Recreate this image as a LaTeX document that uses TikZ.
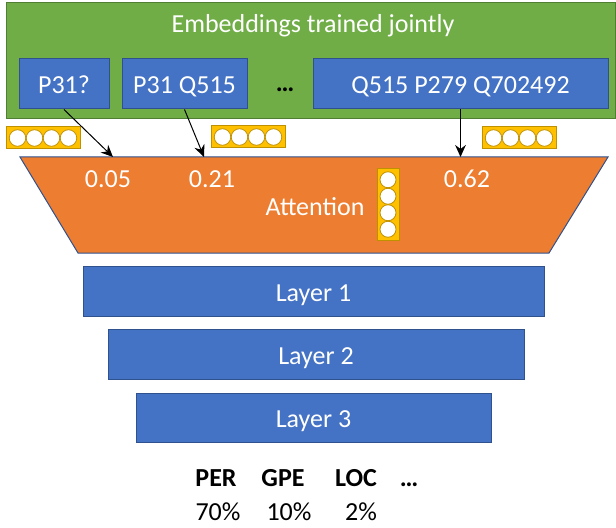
\documentclass[tikz,border=0pt]{standalone}
\usepackage{fontspec}
\setmainfont{Carlito}
\usetikzlibrary{arrows.meta}
\definecolor{cgreen}{HTML}{70AD47}
\definecolor{cgreenB}{HTML}{507E32}
\definecolor{cblue}{HTML}{4472C4}
\definecolor{cblueB}{HTML}{2F528F}
\definecolor{corange}{HTML}{ED7D31}
\definecolor{cgold}{HTML}{FFC000}
\definecolor{cgoldB}{HTML}{BF9000}
\tikzset{
  txt/.style={font=\fontsize{19.5}{23}\selectfont, inner sep=0pt},
  wtxt/.style={txt, text=white},
  bluebox/.style={draw=cblueB, fill=cblue, line width=0.75pt, inner sep=0pt,
    text=white, font=\fontsize{19.5}{23}\selectfont, text height=15pt, text depth=0pt},
  arr/.style={draw=black, line width=0.75pt, -{Stealth[length=9pt,width=8pt,inset=3pt]}},
  chipbox/.style={draw=cgoldB, fill=cgold, line width=0.75pt},
  chipdot/.style={draw=cgoldB, fill=white, line width=0.6pt},
  hchip/.pic={
    \path[chipbox] (0,0) rectangle (74,22);
    \foreach \i in {11.5,28.5,45.5,62.5}{\path[chipdot] (\i,11) circle[radius=6.2pt];}
  },
  vchip/.pic={
    \path[chipbox] (0,0) rectangle (22,71);
    \foreach \i in {10.75,27.25,43.75,60.25}{\path[chipdot] (11,\i) circle[radius=6pt];}
  }
}
\begin{document}
\begin{tikzpicture}[x=0.75pt,y=-0.75pt]
\useasboundingbox (0,0) rectangle (616,527);
% green container
\node[draw=cgreenB, fill=cgreen, line width=0.75pt, minimum width=456.75pt, minimum height=87pt, inner sep=0pt] (green) at (310.5,61) {};
\node[wtxt, anchor=base] (title) at (313,33) {Embeddings trained jointly};
% embedding boxes
\node[bluebox, minimum width=67.5pt, minimum height=37.5pt] (b1) at (64,84) {P31?};
\node[bluebox, minimum width=93.75pt, minimum height=37.5pt] (b2) at (184.5,84) {P31 Q515};
\node[txt, anchor=base] (dots) at (285,92) {\textbf{…}};
\node[bluebox, minimum width=221.25pt, minimum height=37.5pt] (b3) at (460.5,84) {Q515 P279 Q702492};
% chips
\pic at (6,127) {hchip};
\pic at (211,126) {hchip};
\pic at (482,127) {hchip};
% attention trapezoid
\path[fill=corange, draw=cblueB, line width=0.75pt] (20,157) -- (608,157) -- (549,253) -- (78,253) -- cycle;
\coordinate (t1) at (113,157);
\coordinate (t2) at (204,157);
\coordinate (t3) at (460.5,157);
\pic at (377,169) {vchip};
\node[wtxt, anchor=base] (w1) at (108,188) {0.05};
\node[wtxt, anchor=base] (w2) at (212,188) {0.21};
\node[wtxt, anchor=base] (w3) at (467,188) {0.62};
\node[wtxt, anchor=base] (att) at (315,215) {Attention};
% arrows
\draw[arr] (b1.south) -- (t1);
\draw[arr] (b2.south) -- (t2);
\draw[arr] (b3.south) -- (t3);
% layers
\node[bluebox, minimum width=345.75pt, minimum height=37.5pt] (L1) at (313.5,291) {Layer 1};
\node[bluebox, minimum width=312pt, minimum height=37.5pt] (L2) at (316,354) {Layer 2};
\node[bluebox, minimum width=266.25pt, minimum height=36.75pt] (L3) at (313.5,417.5) {Layer 3};
% outputs
\node[txt, anchor=base] (per) at (216,486) {\textbf{PER}};
\node[txt, anchor=base] (gpe) at (283,486) {\textbf{GPE}};
\node[txt, anchor=base] (loc) at (356,486) {\textbf{LOC}};
\node[txt, anchor=base] (more) at (409,486) {\textbf{…}};
\node[txt, anchor=base] (p1) at (218,520) {70\%};
\node[txt, anchor=base] (p2) at (289,520) {10\%};
\node[txt, anchor=base] (p3) at (361,520) {2\%};
\end{tikzpicture}
\end{document}
